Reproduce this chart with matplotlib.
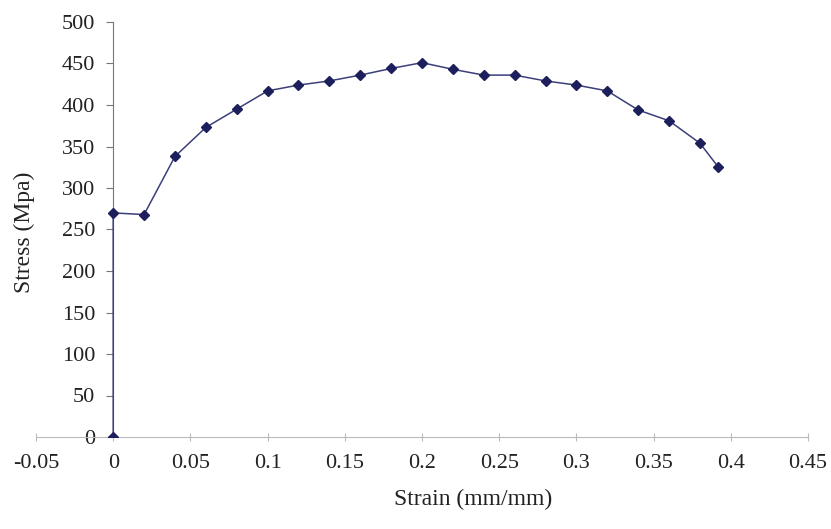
import matplotlib.pyplot as plt

plt.switch_backend('Agg')

# 응력-변형률 데이터
strain = [0.0, 0.0, 0.02, 0.04, 0.06, 0.08, 0.10, 0.12, 0.14, 0.16, 0.18,
          0.20, 0.22, 0.24, 0.26, 0.28, 0.30, 0.32, 0.34, 0.36, 0.38, 0.392]
stress = [0, 270, 268, 338, 373, 395, 417, 424, 429, 436, 444,
          451, 443, 436, 436, 429, 424, 417, 394, 381, 354, 325]

x_ticks = [-0.05, 0, 0.05, 0.1, 0.15, 0.2, 0.25, 0.3, 0.35, 0.4, 0.45]
x_labels = ["-0.05", "0", "0.05", "0.1", "0.15", "0.2", "0.25", "0.3", "0.35", "0.4", "0.45"]
y_ticks = [0, 50, 100, 150, 200, 250, 300, 350, 400, 450, 500]

plt.rcParams['font.family'] = ['Liberation Serif', 'DejaVu Serif']

fig = plt.figure(figsize=(8.31, 5.29), dpi=100)
ax = fig.add_axes([36 / 831, 1 - 437 / 529, 772 / 831, 415 / 529])

ax.plot(strain, stress, color='#3b3f7a', linewidth=1.1,
        marker='D', markersize=5, markerfacecolor='#1c1f5c',
        markeredgecolor='#1c1f5c', zorder=3)

ax.set_xlim(-0.05, 0.45)
ax.set_ylim(0, 500)

# 축 스타일 (엑셀 차트처럼 y축은 x=0에서 교차)
ax.spines['left'].set_position(('data', 0))
ax.spines['left'].set_color('#777777')
ax.spines['left'].set_linewidth(0.8)
ax.spines['bottom'].set_color('#bbbbbb')
ax.spines['bottom'].set_linewidth(0.8)
ax.spines['top'].set_visible(False)
ax.spines['right'].set_visible(False)

ax.set_xticks(x_ticks)
ax.set_xticklabels(x_labels)
ax.set_yticks(y_ticks)

ax.tick_params(axis='y', direction='out', length=5, width=0.8, color='#777777',
               labelsize=16, pad=8, labelcolor='#222222')
ax.tick_params(axis='x', direction='inout', length=6, width=0.8, color='#bbbbbb',
               labelsize=16, pad=9, labelcolor='#222222')

fig.text(24 / 831, 1 - 232 / 529, "Stress (Mpa)", rotation=90, ha='center', va='center',
         fontsize=17, color='#222222')
fig.text(473 / 831, 1 - 499 / 529, "Strain (mm/mm)", ha='center', va='center',
         fontsize=17, color='#222222')

plt.savefig("out.png", dpi=100)
